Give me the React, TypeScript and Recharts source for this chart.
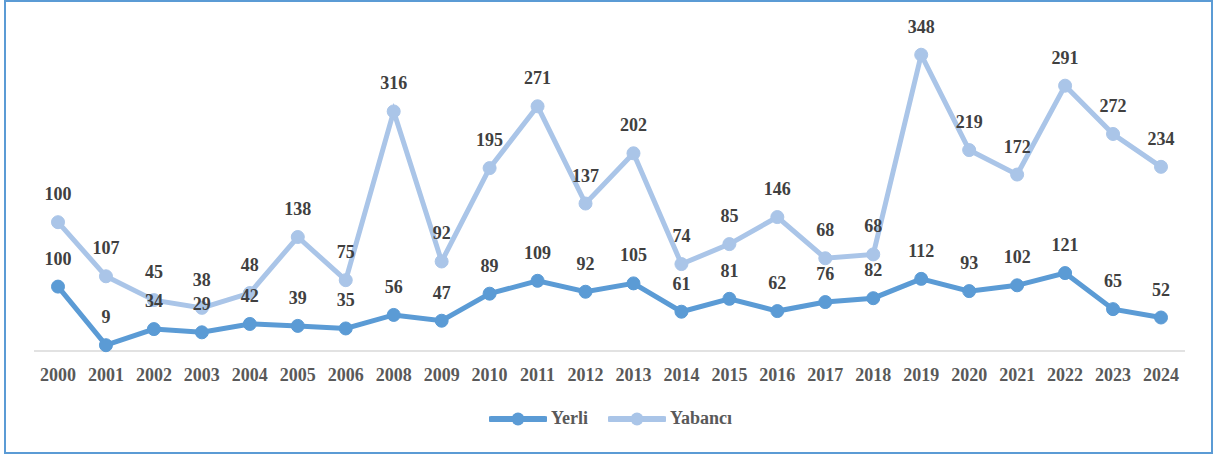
import React from 'react';
import { ComposedChart, Area, XAxis, YAxis, LabelList } from 'recharts';

const years = ['2000', '2001', '2002', '2003', '2004', '2005', '2006', '2008', '2009', '2010', '2011', '2012', '2013', '2014', '2015', '2016', '2017', '2018', '2019', '2020', '2021', '2022', '2023', '2024'];
const yerli = [100, 9, 34, 29, 42, 39, 35, 56, 47, 89, 109, 92, 105, 61, 81, 62, 76, 82, 112, 93, 102, 121, 65, 52];
const yabanci = [100, 107, 45, 38, 48, 138, 75, 316, 92, 195, 271, 137, 202, 74, 85, 146, 68, 68, 348, 219, 172, 291, 272, 234];

const YERLI = '#5B9BD5';
const YABANCI = '#AAC5E8';
const FONT = "'Liberation Serif', serif";

const data = years.map((y, i) => ({ year: y, yerli: yerli[i], yabanci: yabanci[i] }));

const labelStyle = { fontFamily: FONT, fontSize: 18, fontWeight: 700, fill: '#404040' };

const LegendItem: React.FC<{ color: string; text: string }> = ({ color, text }) => (
  <div style={{ display: 'flex', alignItems: 'center', marginRight: 20 }}>
    <svg width={58} height={14}>
      <line x1={2} y1={7} x2={56} y2={7} stroke={color} strokeWidth={6} strokeLinecap="round" />
      <circle cx={29} cy={7} r={6.5} fill={color} />
    </svg>
    <span style={{ fontFamily: FONT, fontSize: 18, fontWeight: 700, color: '#595959', marginLeft: 4 }}>{text}</span>
  </div>
);

const App: React.FC = () => {
  return (
    <div style={{ position: 'absolute', left: 0, top: 0, width: 1215, height: 456, background: '#fff' }}>
      <div
        style={{
          position: 'absolute',
          left: 4,
          top: 0,
          width: 1209,
          height: 454,
          border: '2px solid #5B9BD5',
          boxSizing: 'border-box',
        }}
      />
      <div style={{ position: 'absolute', left: 0, top: 0 }}>
        <ComposedChart width={1215} height={456} data={data} margin={{ top: 29, right: 30, bottom: 75, left: 34 }}>
          <XAxis
            dataKey="year"
            padding={{ left: 24, right: 24 }}
            axisLine={{ stroke: '#D9D9D9', strokeWidth: 1.5 }}
            tickLine={false}
            tickSize={0}
            tickMargin={17}
            interval={0}
            tick={{ fontFamily: FONT, fontSize: 18, fontWeight: 700, fill: '#595959' }}
          />
          <YAxis hide domain={[0, 500]} />
          <Area
            type="linear"
            dataKey="yerli"
            stackId="a"
            stroke={YERLI}
            strokeWidth={5}
            fill="none"
            fillOpacity={1}
            dot={{ r: 6.5, fill: YERLI, fillOpacity: 1, stroke: YERLI, strokeWidth: 1 }}
            activeDot={false}
            isAnimationActive={false}
          >
            <LabelList dataKey="yerli" position="top" offset={22} style={labelStyle} />
          </Area>
          <Area
            type="linear"
            dataKey="yabanci"
            stackId="a"
            stroke={YABANCI}
            strokeWidth={5}
            fill="none"
            fillOpacity={1}
            dot={{ r: 6.5, fill: YABANCI, fillOpacity: 1, stroke: YABANCI, strokeWidth: 1 }}
            activeDot={false}
            isAnimationActive={false}
          >
            <LabelList dataKey="yabanci" position="top" offset={22} style={labelStyle} />
          </Area>
        </ComposedChart>
      </div>
      <div style={{ position: 'absolute', left: 489, top: 408, display: 'flex', alignItems: 'center' }}>
        <LegendItem color={YERLI} text="Yerli" />
        <LegendItem color={YABANCI} text="Yabancı" />
      </div>
    </div>
  );
};

export default App;
